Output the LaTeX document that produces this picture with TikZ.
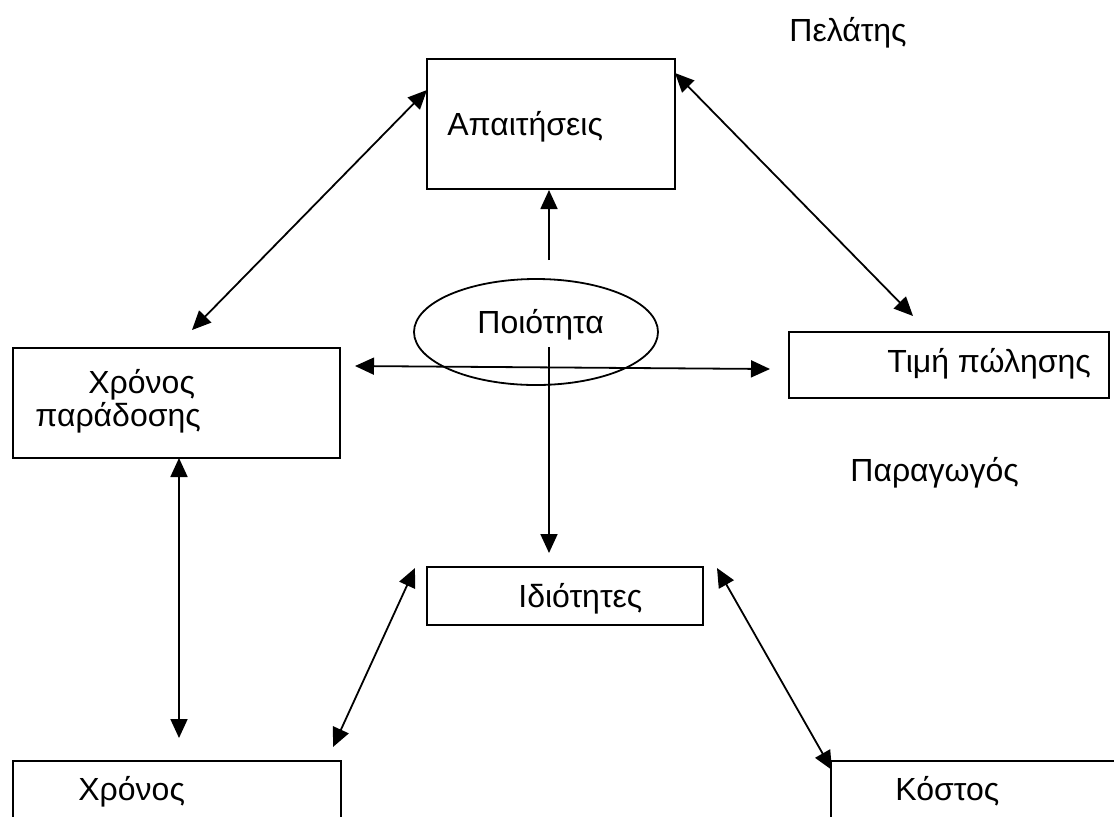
\documentclass[tikz,border=0pt]{standalone}
\usepackage{fontspec}
\setmainfont{Liberation Sans}
\usetikzlibrary{arrows.meta,shapes.geometric}
\begin{document}
\begin{tikzpicture}[x=0.5pt,y=-0.5pt,
  box/.style={draw,line width=0.9pt,rectangle,inner sep=0pt},
  txt/.style={anchor=base west,inner sep=0pt,font=\fontsize{16pt}{19pt}\selectfont},
  conn/.style={line width=0.9pt,{Triangle[length=9.5pt,width=8.5pt]}-{Triangle[length=9.5pt,width=8.5pt]}},
  oneway/.style={line width=0.9pt,-{Triangle[length=9.5pt,width=8.5pt]}}]
\clip (0,0) rectangle (1114,816);
\fill[white] (0,0) rectangle (1114,816);
% boxes
\node[box,minimum width=124pt,minimum height=65pt] (apait) at (551,124) {};
\node[box,minimum width=163.5pt,minimum height=55pt] (xpar) at (176.5,403) {};
\node[box,minimum width=160pt,minimum height=33pt] (timi) at (949,365) {};
\node[box,minimum width=138pt,minimum height=29pt] (idiot) at (565,596) {};
\node[box,minimum width=164pt,minimum height=54pt] (xron) at (177,815) {};
\node[box,minimum width=169pt,minimum height=54pt] (kost) at (1000,815) {};
\node[draw,line width=0.9pt,ellipse,minimum width=122pt,minimum height=53pt,inner sep=0pt] (poio) at (536,332) {};
% texts
\node[txt] (tapait) at (447,135) {Απαιτήσεις};
\node[txt] (tpoio) at (477,333) {Ποιότητα};
\node[txt] (txpar1) at (88,393) {Χρόνος};
\node[txt] (txpar2) at (35,426) {παράδοσης};
\node[txt] (ttimi) at (887,372) {Τιμή πώλησης};
\node[txt] (tidiot) at (518,607) {Ιδιότητες};
\node[txt] (txron) at (78,800) {Χρόνος};
\node[txt] (tkost) at (895,800) {Κόστος};
\node[txt] (pelatis) at (789,41) {Πελάτης};
\node[txt] (paragogos) at (850,481) {Παραγωγός};
% connector ends
\coordinate (aL) at (427,90);
\coordinate (xparTR) at (192,330);
\coordinate (aR) at (675,73);
\coordinate (timiTL) at (913,316);
\coordinate (hL) at (355,366);
\coordinate (hR) at (770,369);
\coordinate (upS) at (549,260);
\coordinate (aB) at (549,190);
\coordinate (dnS) at (549,347);
\coordinate (idT) at (549,553);
\coordinate (xparB) at (179,458);
\coordinate (xronT) at (179,738);
\coordinate (idL) at (415,568);
\coordinate (xronTR) at (333,747);
\coordinate (idR) at (717,568);
\coordinate (kostTL) at (832,770);
% connectors
\draw[conn] (aL) -- (xparTR);
\draw[conn] (aR) -- (timiTL);
\draw[conn] (hL) -- (hR);
\draw[oneway] (upS) -- (aB);
\draw[oneway] (dnS) -- (idT);
\draw[conn] (xparB) -- (xronT);
\draw[conn] (idL) -- (xronTR);
\draw[conn] (idR) -- (kostTL);
\end{tikzpicture}
\end{document}
